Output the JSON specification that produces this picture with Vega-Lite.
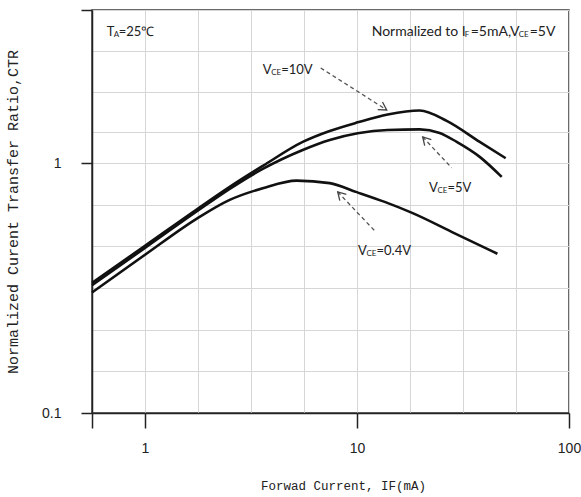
{
  "$schema": "https://vega.github.io/schema/vega-lite/v6.json",
  "width": 477,
  "height": 403,
  "autosize": "none",
  "padding": {"left": 92, "top": 10, "right": 12, "bottom": 84},
  "background": "white",
  "config": {
    "view": {"stroke": "#3a3a3a", "strokeWidth": 1.5},
    "axis": {
      "domainColor": "#222", "domainWidth": 1.5,
      "tickColor": "#222", "tickWidth": 1.5,
      "gridColor": "#d6d6d6", "gridWidth": 1,
      "labelColor": "#222", "titleColor": "#222", "titleFontWeight": "normal"
    }
  },
  "datasets": {
    "curves": [
      {"vce": "10V", "x": 0.5623, "y": 0.332},
      {"vce": "10V", "x": 1.0, "y": 0.467},
      {"vce": "10V", "x": 1.772, "y": 0.657},
      {"vce": "10V", "x": 2.509, "y": 0.804},
      {"vce": "10V", "x": 3.592, "y": 0.975},
      {"vce": "10V", "x": 5.546, "y": 1.217},
      {"vce": "10V", "x": 7.434, "y": 1.346},
      {"vce": "10V", "x": 10.08, "y": 1.457},
      {"vce": "10V", "x": 13.96, "y": 1.567},
      {"vce": "10V", "x": 19.76, "y": 1.626},
      {"vce": "10V", "x": 26.49, "y": 1.477},
      {"vce": "10V", "x": 37.92, "y": 1.217},
      {"vce": "10V", "x": 50.28, "y": 1.047},
      {"vce": "5V", "x": 0.5623, "y": 0.3245},
      {"vce": "5V", "x": 1.0, "y": 0.458},
      {"vce": "5V", "x": 1.772, "y": 0.645},
      {"vce": "5V", "x": 2.509, "y": 0.789},
      {"vce": "5V", "x": 3.592, "y": 0.949},
      {"vce": "5V", "x": 5.546, "y": 1.13},
      {"vce": "5V", "x": 7.434, "y": 1.239},
      {"vce": "5V", "x": 10.08, "y": 1.318},
      {"vce": "5V", "x": 13.96, "y": 1.359},
      {"vce": "5V", "x": 19.76, "y": 1.366},
      {"vce": "5V", "x": 24.55, "y": 1.322},
      {"vce": "5V", "x": 29.53, "y": 1.217},
      {"vce": "5V", "x": 37.92, "y": 1.06},
      {"vce": "5V", "x": 48.14, "y": 0.8815},
      {"vce": "0.4V", "x": 0.5623, "y": 0.3037},
      {"vce": "0.4V", "x": 1.0, "y": 0.43},
      {"vce": "0.4V", "x": 1.772, "y": 0.603},
      {"vce": "0.4V", "x": 2.509, "y": 0.713},
      {"vce": "0.4V", "x": 3.592, "y": 0.794},
      {"vce": "0.4V", "x": 5.194, "y": 0.852},
      {"vce": "0.4V", "x": 7.434, "y": 0.832},
      {"vce": "0.4V", "x": 9.97, "y": 0.766},
      {"vce": "0.4V", "x": 13.51, "y": 0.7},
      {"vce": "0.4V", "x": 18.31, "y": 0.631},
      {"vce": "0.4V", "x": 28.9, "y": 0.524},
      {"vce": "0.4V", "x": 45.95, "y": 0.434}
    ],
    "arrows": [
      {"id": "a1", "x": 6.743, "y": 2.405},
      {"id": "a1", "x": 13.81, "y": 1.634},
      {"id": "a2", "x": 27.97, "y": 0.9576},
      {"id": "a2", "x": 20.41, "y": 1.2739},
      {"id": "a3", "x": 12.25, "y": 0.5311},
      {"id": "a3", "x": 8.11, "y": 0.7677}
    ],
    "heads": [
      {"id": "h1", "i": 0, "x": 13.19, "y": 1.759},
      {"id": "h1", "i": 1, "x": 13.81, "y": 1.634},
      {"id": "h1", "i": 2, "x": 12.52, "y": 1.64},
      {"id": "h2", "i": 0, "x": 20.86, "y": 1.1749},
      {"id": "h2", "i": 1, "x": 20.41, "y": 1.2739},
      {"id": "h2", "i": 2, "x": 22.41, "y": 1.2441},
      {"id": "h3", "i": 0, "x": 8.296, "y": 0.7087},
      {"id": "h3", "i": 1, "x": 8.11, "y": 0.7677},
      {"id": "h3", "i": 2, "x": 8.905, "y": 0.7495}
    ],
    "mainText": [
      {"x": 0.6596, "y": 3.351, "t": "T"},
      {"x": 0.7514, "y": 3.351, "t": "=25℃"},
      {"x": 3.592, "y": 2.361, "t": "V"},
      {"x": 4.39, "y": 2.361, "t": "=10V"},
      {"x": 21.87, "y": 0.7943, "t": "V"},
      {"x": 26.73, "y": 0.7943, "t": "=5V"},
      {"x": 10.11, "y": 0.4458, "t": "V"},
      {"x": 12.36, "y": 0.4458, "t": "=0.4V"}
    ],
    "noteText": [
      {"x": 11.73, "y": 3.351, "t": "Normalized to I"},
      {"x": 34.38, "y": 3.351, "t": "=5mA,V"},
      {"x": 65.26, "y": 3.351, "t": "=5V"}
    ],
    "subText": [
      {"x": 0.7118, "y": 3.351, "t": "A"},
      {"x": 32.21, "y": 3.351, "t": "F"},
      {"x": 57.9, "y": 3.351, "t": "CE"},
      {"x": 3.938, "y": 2.361, "t": "CE"},
      {"x": 23.97, "y": 0.7943, "t": "CE"},
      {"x": 11.09, "y": 0.4458, "t": "CE"}
    ]
  },
  "encoding": {
    "x": {
      "field": "x", "type": "quantitative",
      "scale": {"type": "log", "domain": [0.5623, 100], "nice": false},
      "title": "Forwad Current, IF(mA)",
      "axis": {
        "values": [0.5623, 1, 1.778, 3.162, 5.623, 10, 17.78, 31.62, 56.23, 100],
        "tickSize": 15,
        "tickOpacity": {"condition": {"test": "datum.value < 0.6 || datum.value == 1 || datum.value == 10 || datum.value == 100", "value": 1}, "value": 0},
        "format": "d",
        "labelExpr": "datum.value == 1 || datum.value == 10 || datum.value == 100 ? datum.label : ''",
        "labelFont": "Liberation Sans", "labelFontSize": 14, "labelPadding": 13,
        "labelFlush": false, "labelOverlap": false,
        "titleFont": "Liberation Mono", "titleFontSize": 12.5, "titlePadding": 24, "titleX": 251,
        "grid": true
      }
    },
    "y": {
      "field": "y", "type": "quantitative",
      "scale": {"type": "log", "domain": [0.1, 4.105], "nice": false},
      "title": "Normalized Curent Transfer Ratio,CTR",
      "axis": {
        "values": [0.1, 0.1468, 0.2154, 0.3162, 0.4642, 0.6813, 1, 1.331, 1.923, 2.812, 4.105],
        "tickSize": 11,
        "tickOpacity": {"condition": {"test": "datum.value == 0.1 || datum.value == 1 || datum.value == 4.105", "value": 1}, "value": 0},
        "labelExpr": "datum.value == 0.1 ? '0.1' : datum.value == 1 ? '1' : ''",
        "labelFont": "Liberation Sans", "labelFontSize": 14, "labelPadding": 20,
        "labelFlush": false, "labelOverlap": false,
        "titleFont": "Liberation Mono", "titleFontSize": 15, "titlePadding": 21,
        "grid": true
      }
    }
  },
  "layer": [
    {
      "data": {"name": "curves"},
      "mark": {"type": "line", "interpolate": "monotone", "color": "#111", "strokeWidth": 2.6},
      "encoding": {"detail": {"field": "vce"}}
    },
    {
      "data": {"name": "arrows"},
      "mark": {"type": "line", "color": "#555", "strokeWidth": 1.3, "strokeDash": [4, 3]},
      "encoding": {"detail": {"field": "id"}}
    },
    {
      "data": {"name": "heads"},
      "mark": {"type": "line", "color": "#444", "strokeWidth": 1.3},
      "encoding": {"detail": {"field": "id"}, "order": {"field": "i"}}
    },
    {
      "data": {"name": "mainText"},
      "mark": {"type": "text", "align": "left", "baseline": "middle", "font": "Lato", "fontSize": 13, "color": "#222"},
      "encoding": {"text": {"field": "t"}}
    },
    {
      "data": {"name": "noteText"},
      "mark": {"type": "text", "align": "left", "baseline": "middle", "font": "Lato", "fontSize": 14, "color": "#222"},
      "encoding": {"text": {"field": "t"}}
    },
    {
      "data": {"name": "subText"},
      "mark": {"type": "text", "align": "left", "baseline": "middle", "font": "Lato", "fontSize": 8, "dy": 3, "color": "#222"},
      "encoding": {"text": {"field": "t"}}
    }
  ]
}
